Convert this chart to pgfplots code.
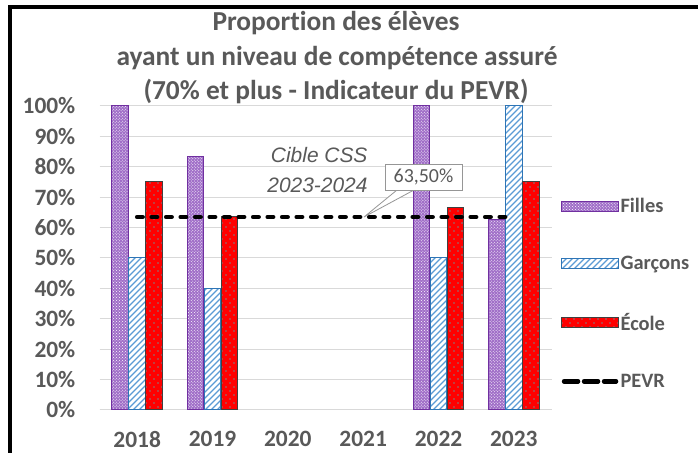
\documentclass[border=0pt]{standalone}
\usepackage{fontspec}
\setmainfont{Carlito}[Ligatures=NoCommon]
\newfontfamily\annfont{Liberation Sans}
\usepackage{pgfplots}
\pgfplotsset{compat=1.18}
\usetikzlibrary{patterns}

\definecolor{txtgray}{RGB}{89,89,89}
\definecolor{gridgray}{RGB}{217,217,217}
\definecolor{fillesfill}{RGB}{160,110,200}
\definecolor{fillesedge}{RGB}{112,48,160}
\definecolor{garcedge}{RGB}{46,117,182}
\definecolor{garchatch}{RGB}{91,155,213}
\definecolor{ecoleedge}{RGB}{64,64,64}
\definecolor{boxgray}{RGB}{150,150,150}

% sparse dots for the red bars
\pgfdeclarepatternformonly{sparsedots}{\pgfpoint{-1bp}{-1bp}}{\pgfpoint{9bp}{9bp}}{\pgfpoint{8bp}{8bp}}{%
  \pgfpathcircle{\pgfpoint{2bp}{2bp}}{0.9bp}%
  \pgfpathcircle{\pgfpoint{6bp}{6bp}}{0.9bp}%
  \pgfusepath{fill}}
% wider diagonal hatch for the blue bars
\pgfdeclarepatternformonly{widehatch}{\pgfpoint{-1bp}{-1bp}}{\pgfpoint{7bp}{7bp}}{\pgfpoint{6bp}{6bp}}{%
  \pgfsetlinewidth{1.3bp}%
  \pgfpathmoveto{\pgfpoint{0bp}{0bp}}%
  \pgfpathlineto{\pgfpoint{6.1bp}{6.1bp}}%
  \pgfusepath{stroke}}

\pgfplotsset{
  barleg/.style={legend image code/.code={\draw[##1] (0bp,-5bp) rectangle (57bp,5bp);}},
  dashleg/.style={legend image code/.code={\draw[##1, dash pattern=on 14bp off 6bp] (3bp,0bp) -- (55bp,0bp);}},
}

\begin{document}
\begin{tikzpicture}[x=1bp,y=1bp]
\useasboundingbox (0,0) rectangle (698,453);
\fill[white] (0,0) rectangle (698,453);

% frame (only top and left edges are visible)
\draw[line width=4bp] (10,0) -- (10,446) -- (698,446);

% title
\begin{scope}[every node/.style={font=\fontsize{27.5}{32}\selectfont\bfseries, text=txtgray, anchor=base}]
\node at (336,422) {Proportion des élèves};
\node at (337,387) {ayant un niveau de compétence assuré};
\node at (336,353) {(70\% et plus - Indicateur du PEVR)};
\end{scope}

\begin{axis}[
  at={(99.5bp,43bp)}, anchor=south west,
  scale only axis, width=452bp, height=304bp,
  xmin=-0.5, xmax=5.5, ymin=0, ymax=100,
  xtick={0,...,5}, xticklabels={2018,2019,2020,2021,2022,2023},
  ytick={0,10,...,100},
  yticklabel={\pgfmathprintnumber[assume math mode=true]{\tick}\%},
  ymajorgrids, grid style={gridgray, line width=1bp},
  axis x line*=bottom, axis y line*=left,
  x axis line style={gridgray, line width=1bp, -},
  y axis line style={draw=none, -},
  major tick length=0pt,
  tick label style={font=\fontsize{23.5}{27}\selectfont\bfseries, text=txtgray, inner sep=0pt},
  xticklabel style={anchor=north, yshift=-21bp},
  yticklabel style={anchor=east, xshift=-24bp},
  legend style={draw=none, fill=none, at={(1.013,0.709)}, anchor=north west,
                row sep=38bp, font=\fontsize{20.5}{24}\selectfont\bfseries, text=txtgray,
                /tikz/every even column/.append style={column sep=4.5bp}},
  legend cell align=left,
]
\addplot[ybar, bar width=16.5bp, bar shift=-17bp, draw=fillesedge, line width=1bp, fill=fillesfill,
  postaction={pattern=crosshatch dots, pattern color=white}, barleg]
  coordinates {(0,100) (1,83.3) (4,100) (5,62.5)};
\addlegendentry{Filles}
\addplot[ybar, bar width=16.5bp, bar shift=0bp, draw=garcedge, line width=1bp, fill=white,
  postaction={pattern=widehatch, pattern color=garchatch}, barleg]
  coordinates {(0,50) (1,40) (4,50) (5,100)};
\addlegendentry{Garçons}
\addplot[ybar, bar width=16.5bp, bar shift=17bp, draw=ecoleedge, line width=1bp, fill=red,
  postaction={pattern=sparsedots, pattern color=gray}, barleg]
  coordinates {(0,75) (1,63.6) (4,66.7) (5,75)};
\addlegendentry{École}
\addplot[sharp plot, black, line width=4.5bp, dash pattern=on 5.5bp off 9bp, line cap=round, no markers, dashleg]
  coordinates {(0,63.5) (5,63.5)};
\addlegendentry{PEVR}
\end{axis}

% target label
\node[font=\annfont\itshape\fontsize{21}{25}\selectfont, text=txtgray, anchor=base east] at (371,290) {Cible CSS};
\node[font=\annfont\itshape\fontsize{21}{25}\selectfont, text=txtgray, anchor=base east] at (371,260) {2023-2024};

% callout
\draw[boxgray, fill=white, line width=0.8bp] (397,263) -- (364,236) -- (414,263);
\draw[boxgray, fill=white, line width=0.8bp] (385,263) rectangle (462,289);
\node[font=\fontsize{20}{24}\selectfont, text=txtgray] at (423.5,276) {63,50\%};
\end{tikzpicture}
\end{document}
